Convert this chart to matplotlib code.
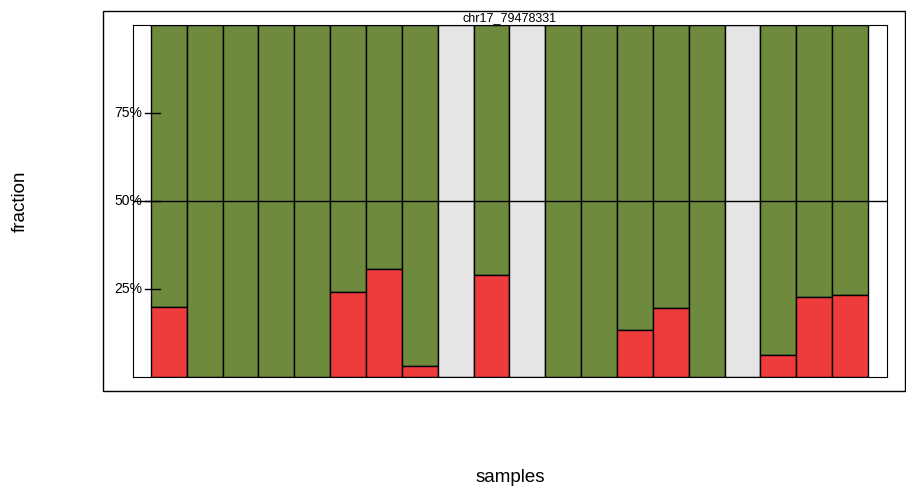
import matplotlib
matplotlib.use('Agg')
import matplotlib.pyplot as plt
from matplotlib.patches import Rectangle
import matplotlib.transforms as mtransforms

plt.rcParams['font.family'] = ['Liberation Sans', 'DejaVu Sans']

title = 'chr17_79478331'
red = [0.199, 0, 0, 0, 0, 0.241, 0.307, 0.031, None, 0.29, None,
       0, 0, 0.134, 0.196, 0, None, 0.0625, 0.227, 0.233]
ytick_vals = [0.25, 0.5, 0.75]
ytick_labels = ['25%', '50%', '75%']

W, H = 906, 486
fig = plt.figure(figsize=(W / 100, H / 100), dpi=100)
fig.patches.append(Rectangle((103 / W, 1 - 391 / H), 802 / W, 380 / H,
                             transform=fig.transFigure, fill=False,
                             edgecolor='black', lw=1))
ax = fig.add_axes([133 / W, 1 - 377 / H, 754 / W, 352 / H])

for i, r in enumerate(red):
    if r is None:
        ax.bar(i, 1, width=1, color='#e5e5e5', edgecolor='black', lw=1)
        continue
    ax.bar(i, 1 - r, bottom=r, width=1, color='#6e8b3d', edgecolor='black', lw=1)
    if r > 0:
        ax.bar(i, r, width=1, color='#ee3b3b', edgecolor='black', lw=1)

ax.axhline(0.5, color='black', lw=1)
ax.set_xlim(-1.0, 20.03)
ax.set_ylim(0, 1)
ax.set_xticks([])
ax.set_yticks([])

tr = mtransforms.blended_transform_factory(fig.transFigure, ax.transData)
for v, lab in zip(ytick_vals, ytick_labels):
    ax.plot([145 / W, 160 / W], [v, v], color='black', lw=1, transform=tr, clip_on=False)
    ax.text(142 / W, v, lab, transform=tr, ha='right', va='center', fontsize=10)

fig.text((133 + 377) / W, 1 - 18 / H, title, ha='center', va='center', fontsize=9)
fig.text(20 / W, 1 - 201 / H, 'fraction', rotation=90, ha='center', va='center', fontsize=13.5)
fig.text(510 / W, 1 - 477 / H, 'samples', ha='center', va='center', fontsize=13.5)

fig.savefig('out.png', dpi=100)
